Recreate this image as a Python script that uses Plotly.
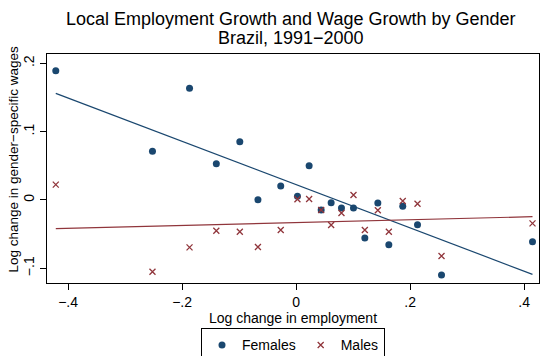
import plotly.graph_objects as go

# Log change in employment (same for both groups)
emp_change = [-0.4216, -0.252, -0.187, -0.140, -0.0988, -0.067, -0.027, 0.0023,
              0.0228, 0.0439, 0.0614, 0.0795, 0.1006, 0.1205, 0.1433, 0.1626,
              0.187, 0.2129, 0.255, 0.4146]
# Log change in gender-specific wages
female_wage = [0.189, 0.0713, 0.1635, 0.053, 0.0854, 0.0005, 0.0205, 0.0054,
               0.050, -0.0146, -0.0039, -0.0117, -0.0117, -0.0556, -0.0044, -0.0654,
               -0.0093, -0.0361, -0.1098, -0.061]
male_wage = [0.0225, -0.105, -0.0693, -0.045, -0.0464, -0.0688, -0.044, 0.001,
             0.0015, -0.0146, -0.0366, -0.019, 0.0073, -0.044, -0.0151, -0.0464,
             -0.0015, -0.0054, -0.082, -0.0342]

# Fitted values of the linear fits at the ends of the employment range
fit_x = [min(emp_change), max(emp_change)]
female_fit = [0.156, -0.1088]
male_fit = [-0.042, -0.0244]

x_ticks = [-0.4, -0.2, 0, 0.2, 0.4]
x_tick_text = ["\u2212.4", "\u2212.2", "0", ".2", ".4"]
y_ticks = [-0.1, 0, 0.1, 0.2]
y_tick_text = ["\u2212.1", "0", ".1", ".2"]

NAVY = "#1a476f"
MAROON = "#90353b"
FONT = "Liberation Sans, Arial, sans-serif"

fig = go.Figure()
fig.add_trace(go.Scatter(x=emp_change, y=female_wage, mode="markers", name="Females",
                         marker=dict(symbol="circle", size=7, color=NAVY)))
fig.add_trace(go.Scatter(x=emp_change, y=male_wage, mode="markers", name="Males",
                         marker=dict(symbol="x-thin", size=6,
                                     line=dict(color=MAROON, width=1.3))))
fig.add_trace(go.Scatter(x=fit_x, y=female_fit, mode="lines", showlegend=False,
                         line=dict(color=NAVY, width=1.2), hoverinfo="skip"))
fig.add_trace(go.Scatter(x=fit_x, y=male_fit, mode="lines", showlegend=False,
                         line=dict(color=MAROON, width=1.2), hoverinfo="skip"))

# Two-line title, set tight like the rest of the layout
for line, ypos in [("Local Employment Growth and Wage Growth by Gender", 1.155),
                   ("Brazil, 1991\u22122000", 1.068)]:
    fig.add_annotation(text=line, xref="paper", yref="paper", x=0.495, y=ypos,
                       xanchor="center", yanchor="middle", showarrow=False,
                       font=dict(family=FONT, size=18, color="black"))

# Vertical axis title
fig.add_annotation(text="Log change in gender\u2212specific wages", textangle=-90,
                   xref="paper", yref="paper", x=-0.068, y=0.5415,
                   xanchor="center", yanchor="middle", showarrow=False,
                   font=dict(family=FONT, size=13.5, color="black"))

fig.update_layout(
    width=549, height=356,
    margin=dict(l=47, r=10, t=54, b=73, autoexpand=False),
    paper_bgcolor="white", plot_bgcolor="white",
    font=dict(family=FONT, size=14, color="black"),
    showlegend=True,
    legend=dict(orientation="h", x=0.5, xanchor="center", y=-0.198, yanchor="top",
                bordercolor="black", borderwidth=1, font=dict(size=14),
                itemwidth=30),
)
fig.update_xaxes(range=[-0.437, 0.426], tickvals=x_ticks, ticktext=x_tick_text,
                 showgrid=False, zeroline=False, showline=True, mirror=True,
                 linecolor="black", linewidth=1, ticks="outside", ticklen=6,
                 tickcolor="black",
                 title=dict(text="Log change in employment", standoff=0,
                            font=dict(size=14)))
fig.update_yaxes(range=[-0.1215, 0.2137], tickvals=y_ticks, ticktext=y_tick_text,
                 tickangle=-90,
                 showgrid=False, zeroline=False, showline=True, mirror=True,
                 linecolor="black", linewidth=1, ticks="outside", ticklen=6,
                 tickcolor="black")

fig.write_html("out.html")
